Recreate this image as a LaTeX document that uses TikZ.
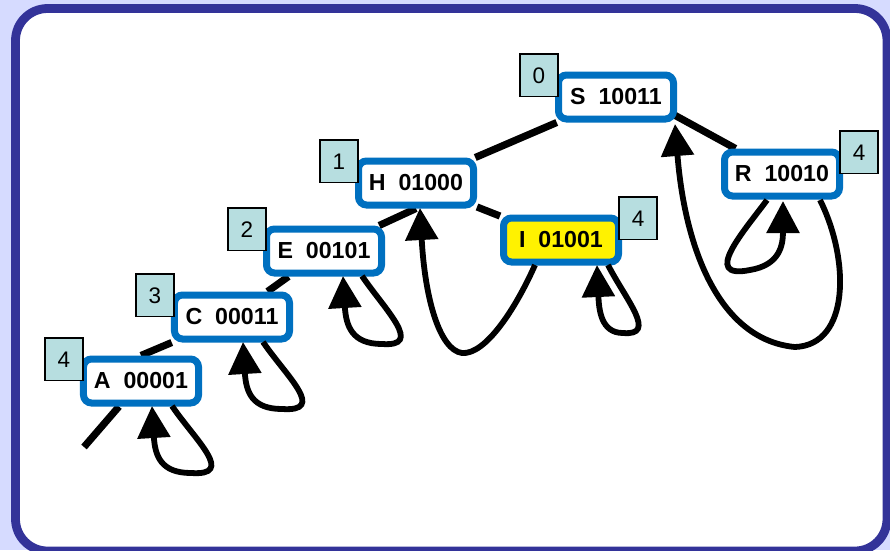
\documentclass[tikz,border=0pt]{standalone}
\usepackage{fontspec}
\setmainfont{Liberation Sans}
\usetikzlibrary{arrows.meta,backgrounds,calc}

\definecolor{cleblue}{RGB}{0,112,192}
\definecolor{bitcyan}{RGB}{183,222,224}
\definecolor{cadrenavy}{RGB}{51,51,153}
\definecolor{fondlav}{RGB}{214,219,255}

\tikzset{
  keybox/.style={draw=cleblue, line width=1.75mm, fill=white, rounded corners=2mm,
    minimum width=28.75mm, minimum height=11mm, inner sep=0pt,
    font=\bfseries\fontsize{16.5}{18}\selectfont},
  bitno/.style={draw=black, line width=0.4mm, fill=bitcyan, minimum width=9.4mm,
    minimum height=10.6mm, inner sep=0pt, font=\fontsize{16}{18}\selectfont},
  treeedge/.style={line width=1.8mm},
  uplink/.style={line width=1.45mm, -{Triangle[length=8mm, width=8mm]}}
}

\begin{document}
\begin{tikzpicture}[x=0.25mm, y=-0.25mm]
  \useasboundingbox (0,0) rectangle (890,550);

  % Fond et cadre arrondi
  \begin{scope}[on background layer]
    \fill[fondlav] (0,0) rectangle (890,550);
    \draw[cadrenavy, line width=2.2mm, fill=white, rounded corners=8mm] (15.5,8.5) rectangle (887,551);
  \end{scope}

  % Noeuds du trie (cle + bits)
  \node[keybox] (S) at (616,97) {S\ \ 10011};
  \node[keybox] (H) at (416,183) {H\ \ 01000};
  \node[keybox] (E) at (324,251) {E\ \ 00101};
  \node[keybox] (C) at (232,317) {C\ \ 00011};
  \node[keybox] (A) at (141,381) {A\ \ 00001};
  \node[keybox, fill=yellow] (I) at (561,240) {I\ \ 01001};
  \node[keybox] (R) at (782,174) {R\ \ 10010};
  \coordinate (nil) at (84,447);

  % Indices des bits testes
  \node[bitno, xshift=-19.25mm, yshift=5.4mm] (S-bit) at (S) {0};
  \node[bitno, xshift=-19.25mm, yshift=5.4mm] (H-bit) at (H) {1};
  \node[bitno, xshift=-19.25mm, yshift=5.4mm] (E-bit) at (E) {2};
  \node[bitno, xshift=-19.25mm, yshift=5.4mm] (C-bit) at (C) {3};
  \node[bitno, xshift=-19.25mm, yshift=5.4mm] (A-bit) at (A) {4};
  \node[bitno, xshift=19.25mm, yshift=5.4mm] (I-bit) at (I) {4};
  \node[bitno, xshift=19.25mm, yshift=5.4mm] (R-bit) at (R) {4};

  % Liens descendants
  \begin{scope}[on background layer]
    \draw[treeedge] (S) -- (H);
    \draw[treeedge] ($(S)+(0,-14)$) -- (R);
    \draw[treeedge] (H.south) -- (E);
    \draw[treeedge] (H) -- (I);
    \draw[treeedge] (E) -- (C);
    \draw[treeedge] (C) -- (A.north);
    \draw[treeedge] (A) -- (nil);
  \end{scope}

  % Liens remontants (boucles)
  \draw[uplink] ($(A)+(31,25)$) .. controls +(24,35) and +(45,3) .. ($(A)+(50,92)$)
    .. controls +(-30,0) and +(3,50) .. ($(A)+(11,25)$);
  \draw[uplink] ($(C)+(31,25)$) .. controls +(24,35) and +(45,3) .. ($(C)+(50,92)$)
    .. controls +(-30,0) and +(3,50) .. ($(C)+(11,25)$);
  \draw[uplink] ($(E)+(38,25)$) .. controls +(24,35) and +(42,3) .. ($(E)+(58,93)$)
    .. controls +(-30,0) and +(3,50) .. ($(E)+(19,25)$);
  \draw[uplink] ($(I)+(47,25)$) .. controls +(18,35) and +(35,3) .. ($(I)+(62,93)$)
    .. controls +(-22,0) and +(2,45) .. ($(I)+(36,25)$);
  \draw[uplink] ($(I)+(-26,25)$) .. controls +(-20,45) and +(23,2) .. ($(I)+(-99,113)$)
    .. controls +(-22,-3) and +(5,92) .. ($(H)+(4,25)$);
  \draw[uplink] ($(R)+(38,26)$) .. controls +(30,60) and +(55,-2) .. ($(R)+(13,173)$)
    .. controls +(-75,-7) and +(10,126) .. ($(S)+(59,27)$);
  \draw[uplink] ($(R)+(-15,26)$) .. controls +(-22,30) and +(-50,10) .. ($(R)+(-32,96)$)
    .. controls +(30,-5) and +(0,44) .. ($(R)+(1,27)$);
\end{tikzpicture}
\end{document}
